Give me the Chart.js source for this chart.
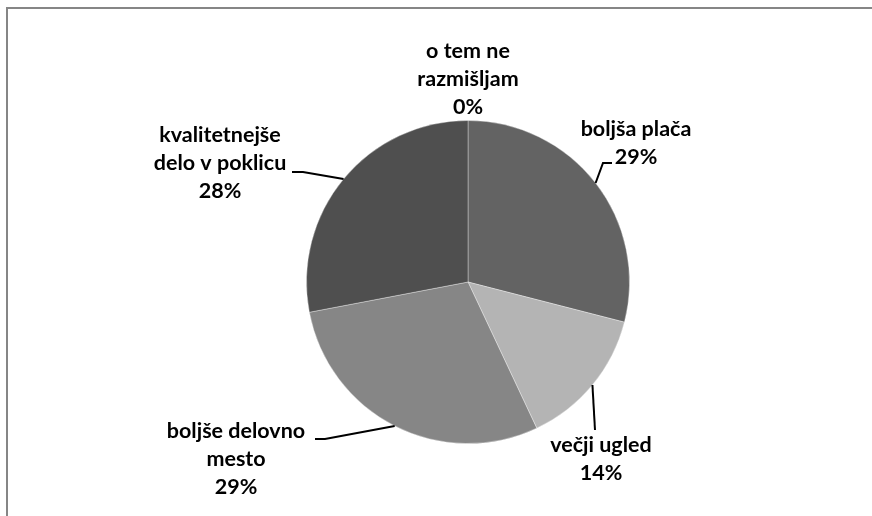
<!DOCTYPE html>
<html>
<head>
<meta charset="utf-8">
<script src="https://cdn.jsdelivr.net/npm/chart.js@4.4.0/dist/chart.umd.min.js"></script>
<style>
  html, body { margin: 0; padding: 0; background: #fff; overflow: hidden; }
  #wrap { position: relative; width: 872px; height: 516px; }
  #frame { position: absolute; left: 6px; top: 7px; width: 900px; height: 600px; border: 2px solid #868686; box-sizing: border-box; }
  canvas { position: absolute; left: 0; top: 0; }
</style>
</head>
<body>
<div id="wrap">
  <div id="frame"></div>
  <canvas id="pieChart" width="872" height="516"></canvas>
</div>
<script>
// data, clockwise from the top
const categories = [
    ['boljša plača'],
    ['večji ugled'],
    ['boljše delovno', 'mesto'],
    ['kvalitetnejše', 'delo v poklicu'],
    ['o tem ne', 'razmišljam']
];
const shares = [29, 14, 29, 28, 0];
const sliceColors = ['#636363', '#b4b4b4', '#868686', '#4f4f4f', '#cccccc'];

// where each label sits, relative to the pie centre (first baseline, then elbows of the leader line)
const labelLayout = [
    { x: 168, y: -146, leader: [[135, -119], [144, -119]] },
    { x: 133, y: 170, leader: [[127, 148]] },
    { x: -232, y: 156, leader: [[-143, 157], [-153, 157]] },
    { x: -248, y: -140, leader: [[-165, -110], [-176, -110]] },
    { x: 0, y: -224, leader: [] }
];
const LINE_GAP = 28;

const labelPlugin = {
    id: 'sliceLabels',
    afterDatasetsDraw(chart) {
        const c = chart.ctx;
        const arcs = chart.getDatasetMeta(0).data;
        c.save();
        c.font = 'bold 21.5px Lato';
        c.fillStyle = '#000';
        c.strokeStyle = '#000';
        c.lineWidth = 2;
        c.textAlign = 'center';
        c.textBaseline = 'alphabetic';
        arcs.forEach((arc, i) => {
            const p = arc.getProps(['x', 'y', 'startAngle', 'endAngle', 'outerRadius'], true);
            const lay = labelLayout[i];
            const mid = (p.startAngle + p.endAngle) / 2;
            if (lay.leader.length) {
                c.beginPath();
                c.moveTo(p.x + Math.cos(mid) * p.outerRadius, p.y + Math.sin(mid) * p.outerRadius);
                lay.leader.forEach(pt => c.lineTo(p.x + pt[0], p.y + pt[1]));
                c.stroke();
            }
            const lines = categories[i].concat([shares[i] + '%']);
            lines.forEach((t, k) => c.fillText(t, p.x + lay.x, p.y + lay.y + k * LINE_GAP));
        });
        c.restore();
    }
};

new Chart(document.getElementById('pieChart').getContext('2d'), {
    type: 'pie',
    data: {
        labels: categories.map(l => l.join(' ')),
        datasets: [{
            data: shares,
            backgroundColor: sliceColors,
            borderColor: 'rgba(255,255,255,0.35)',
            borderWidth: 1
        }]
    },
    options: {
        responsive: false,
        animation: false,
        layout: { padding: { top: 120, bottom: 72, left: 150, right: 86 } },
        plugins: {
            legend: { display: false },
            tooltip: { enabled: false }
        }
    },
    plugins: [labelPlugin]
});
</script>
</body>
</html>
